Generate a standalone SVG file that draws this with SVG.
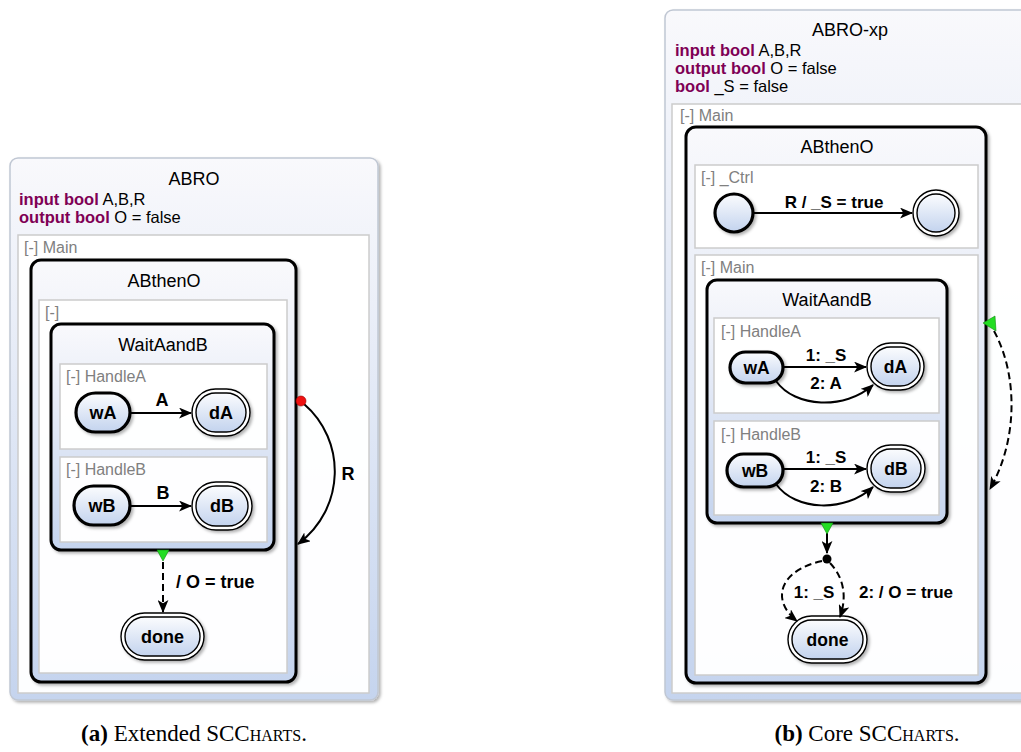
<svg xmlns="http://www.w3.org/2000/svg" width="1021" height="752" viewBox="0 0 1021 752">
  <defs>
    <linearGradient id="stateFill" x1="0" y1="0" x2="0" y2="1">
      <stop offset="0" stop-color="#f9f9fc"/>
      <stop offset="1" stop-color="#c5d4ee"/>
    </linearGradient>
    <linearGradient id="simpleFill" x1="0" y1="0" x2="0" y2="1">
      <stop offset="0" stop-color="#fbfcfe"/>
      <stop offset="1" stop-color="#c3d3ee"/>
    </linearGradient>
    <filter id="shadow" x="-10%" y="-10%" width="130%" height="130%">
      <feDropShadow dx="2" dy="2" stdDeviation="1.5" flood-color="#000" flood-opacity="0.3"/>
    </filter>
    <marker id="arrow" viewBox="0 0 12 10" refX="11" refY="5" markerWidth="13" markerHeight="11" markerUnits="userSpaceOnUse" orient="auto">
      <path d="M0,0 L12,5 L0,10 L3,5 z" fill="#000"/>
    </marker>
    <style>
      .root { fill: url(#stateFill); stroke: #c0c7d3; stroke-width: 1.5; filter: url(#shadow); }
      .macro { fill: url(#stateFill); stroke: #000; stroke-width: 3; filter: url(#shadow); }
      .region { fill: #ffffff; fill-opacity: 0.97; stroke: #cccccc; stroke-width: 1.5; }
      .simple { fill: url(#simpleFill); stroke: #000; stroke-width: 1.5; filter: url(#shadow); }
      .initial { fill: url(#simpleFill); stroke: #000; stroke-width: 3.2; filter: url(#shadow); }
      .finalInner { fill: url(#simpleFill); stroke: #000; stroke-width: 1.4; }
      .finalOuter { fill: #ffffff; stroke: #000; stroke-width: 1.4; filter: url(#shadow); }
      .edge { fill: none; stroke: #000; stroke-width: 2; marker-end: url(#arrow); }
      .dashed { stroke-dasharray: 7 4; }
      .term { fill: #22dd22; stroke: #118811; stroke-width: 0.6; }
      text { font-family: "Liberation Sans", Arial, sans-serif; fill: #000; }
      .title { font-size: 18px; text-anchor: middle; }
      .decl { font-size: 16.5px; }
      .kw { font-weight: bold; fill: #7f0055; }
      .rlabel { font-size: 16px; fill: #808080; }
      .slabel { font-size: 18px; font-weight: bold; text-anchor: middle; }
      .slabel2 { font-size: 17.5px; font-weight: bold; text-anchor: middle; }
      .elabel { font-size: 18px; font-weight: bold; }
      .elabel2 { font-size: 17px; font-weight: bold; }
      .caption { font-family: "Liberation Serif", "Times New Roman", serif; font-size: 23px; text-anchor: middle; }
      .sc { font-variant: small-caps; }
    </style>
  </defs>

  <!-- ===== (a) Extended SCCharts ===== -->
  <g id="ABRO">
    <rect class="root" x="10" y="158" width="368" height="542" rx="8"/>
    <text class="title" x="194" y="185">ABRO</text>
    <text class="decl" x="19" y="205"><tspan class="kw">input bool</tspan> A,B,R</text>
    <text class="decl" x="19" y="223"><tspan class="kw">output bool</tspan> O = false</text>
  </g>
  <g id="ABRO-Main">
    <rect class="region" x="18" y="235" width="351" height="458"/>
    <text class="rlabel" x="24" y="253">[-] Main</text>
  </g>
  <g id="ABRO-ABthenO">
    <rect class="macro" x="31" y="260" width="265" height="422" rx="10"/>
    <text class="title" x="164" y="287">ABthenO</text>
  </g>
  <g id="ABRO-ABthenO-region">
    <rect class="region" x="39" y="300" width="248" height="373"/>
    <text class="rlabel" x="45" y="318">[-]</text>
  </g>
  <g id="ABRO-WaitAandB">
    <rect class="macro" x="51" y="324" width="223" height="226" rx="10"/>
    <text class="title" x="163" y="351">WaitAandB</text>
  </g>
  <g id="ABRO-HandleA">
    <rect class="region" x="60" y="364" width="207" height="85"/>
    <text class="rlabel" x="66" y="382">[-] HandleA</text>
  </g>
  <g id="ABRO-wA">
    <rect class="initial" x="76" y="393" width="54" height="39" rx="19.5"/>
    <text class="slabel" x="103" y="419">wA</text>
  </g>
  <g id="ABRO-dA">
    <rect class="finalOuter" x="192" y="389" width="58" height="47" rx="23.5"/>
    <rect class="finalInner" x="196" y="393" width="50" height="39" rx="19.5"/>
    <text class="slabel" x="221" y="419">dA</text>
  </g>
  <g id="ABRO-HandleB">
    <rect class="region" x="60" y="457" width="207" height="85"/>
    <text class="rlabel" x="66" y="475">[-] HandleB</text>
  </g>
  <g id="ABRO-wB">
    <rect class="initial" x="74" y="486" width="56" height="39" rx="19.5"/>
    <text class="slabel" x="102" y="512">wB</text>
  </g>
  <g id="ABRO-dB">
    <rect class="finalOuter" x="192" y="482" width="60" height="48" rx="24"/>
    <rect class="finalInner" x="196" y="486" width="52" height="40" rx="20"/>
    <text class="slabel" x="222" y="512">dB</text>
  </g>
  <g id="ABRO-done">
    <rect class="finalOuter" x="121" y="613" width="83" height="47" rx="23.5"/>
    <rect class="finalInner" x="125" y="617" width="75" height="39" rx="19.5"/>
    <text class="slabel" x="162.5" y="643">done</text>
  </g>

  <g id="ABRO-connectors">
    <line class="edge" x1="130" y1="413" x2="191" y2="413"/>
    <text class="elabel" x="162" y="406" text-anchor="middle">A</text>
    <line class="edge" x1="130" y1="506" x2="191" y2="506"/>
    <text class="elabel" x="163" y="499" text-anchor="middle">B</text>
    <path class="edge" d="M304,404 C346,440 346,508 298,544"/>
    <circle cx="301" cy="401" r="5" fill="#ee1111" stroke="#990000" stroke-width="0.6"/>
    <text class="elabel" x="348" y="480" text-anchor="middle">R</text>
    <path class="edge dashed" d="M163,562 L163,612"/>
    <polygon class="term" points="157,550 169,550 163,561"/>
    <text class="elabel" x="176" y="588">/ O = true</text>
  </g>

  <!-- ===== (b) Core SCCharts ===== -->
  <g id="ABRO-xp">
    <rect class="root" x="665" y="10" width="400" height="690" rx="8"/>
    <text class="title" x="850" y="36">ABRO-xp</text>
    <text class="decl" x="675" y="56"><tspan class="kw">input bool</tspan> A,B,R</text>
    <text class="decl" x="675" y="74"><tspan class="kw">output bool</tspan> O = false</text>
    <text class="decl" x="675" y="92"><tspan class="kw">bool</tspan> _S = false</text>
  </g>
  <g id="xp-Main">
    <rect class="region" x="672" y="104" width="400" height="589"/>
    <text class="rlabel" x="680" y="121">[-] Main</text>
  </g>
  <g id="xp-ABthenO">
    <rect class="macro" x="686" y="127" width="300" height="556" rx="10"/>
    <text class="title" x="837" y="153">ABthenO</text>
  </g>
  <g id="xp-Ctrl">
    <rect class="region" x="695" y="165" width="283" height="83"/>
    <text class="rlabel" x="701" y="183">[-] _Ctrl</text>
  </g>
  <g id="xp-Ctrl-init">
    <circle class="initial" cx="734" cy="213" r="19"/>
  </g>
  <g id="xp-Ctrl-final">
    <circle class="finalOuter" cx="936" cy="213" r="23"/>
    <circle class="finalInner" cx="936" cy="213" r="19"/>
  </g>
  <g id="xp-Main2">
    <rect class="region" x="695" y="255" width="283" height="420"/>
    <text class="rlabel" x="701" y="273">[-] Main</text>
  </g>
  <g id="xp-WaitAandB">
    <rect class="macro" x="707" y="280" width="240" height="243" rx="10"/>
    <text class="title" x="827" y="306">WaitAandB</text>
  </g>
  <g id="xp-HandleA">
    <rect class="region" x="714" y="318" width="225" height="95"/>
    <text class="rlabel" x="721" y="337">[-] HandleA</text>
  </g>
  <g id="xp-wA">
    <rect class="initial" x="730" y="352" width="53" height="31" rx="15.5"/>
    <text class="slabel2" x="756.5" y="374">wA</text>
  </g>
  <g id="xp-dA">
    <rect class="finalOuter" x="867" y="343" width="57" height="47" rx="23.5"/>
    <rect class="finalInner" x="871" y="347" width="49" height="39" rx="19.5"/>
    <text class="slabel2" x="895.5" y="373">dA</text>
  </g>
  <g id="xp-HandleB">
    <rect class="region" x="714" y="421" width="225" height="94"/>
    <text class="rlabel" x="721" y="440">[-] HandleB</text>
  </g>
  <g id="xp-wB">
    <rect class="initial" x="727" y="454" width="56" height="33" rx="16.5"/>
    <text class="slabel2" x="755" y="477">wB</text>
  </g>
  <g id="xp-dB">
    <rect class="finalOuter" x="867" y="445" width="58" height="47" rx="23.5"/>
    <rect class="finalInner" x="871" y="449" width="50" height="39" rx="19.5"/>
    <text class="slabel2" x="896" y="475">dB</text>
  </g>
  <g id="xp-done">
    <rect class="finalOuter" x="788" y="616" width="79" height="47" rx="23.5"/>
    <rect class="finalInner" x="792" y="620" width="71" height="39" rx="19.5"/>
    <text class="slabel2" x="827.5" y="646">done</text>
  </g>

  <g id="xp-connectors">
    <line class="edge" x1="753" y1="213" x2="912" y2="213"/>
    <text class="elabel2" x="834" y="208" text-anchor="middle">R / _S = true</text>

    <line class="edge" x1="783" y1="367" x2="866" y2="367"/>
    <text class="elabel2" x="826" y="361" text-anchor="middle">1: _S</text>
    <path class="edge" d="M776,381 C795,408 845,410 873,385"/>
    <text class="elabel2" x="826" y="389" text-anchor="middle">2: A</text>

    <line class="edge" x1="783" y1="469" x2="866" y2="469"/>
    <text class="elabel2" x="826" y="463" text-anchor="middle">1: _S</text>
    <path class="edge" d="M776,484 C795,511 845,513 873,487"/>
    <text class="elabel2" x="826" y="492" text-anchor="middle">2: B</text>

    <line class="edge" x1="827" y1="533" x2="827" y2="553"/>
    <polygon class="term" points="821,523 833,523 827,534"/>
    <circle cx="827" cy="559" r="4.5" fill="#000"/>
    <path class="edge dashed" d="M822,561 C780,570 770,600 797,621"/>
    <path class="edge dashed" d="M830,563 C846,580 846,600 840,617"/>
    <text class="elabel2" x="814" y="598" text-anchor="middle">1: _S</text>
    <text class="elabel2" x="859" y="598">2: / O = true</text>

    <path class="edge dashed" d="M994,331 C1018,375 1018,440 990,489"/>
    <polygon class="term" points="983,323 995,316 996,331"/>
  </g>

  <!-- captions -->
  <text class="caption" x="194" y="741"><tspan font-weight="bold">(a)</tspan> Extended <tspan class="sc">SCCharts</tspan>.</text>
  <text class="caption" x="867" y="741"><tspan font-weight="bold">(b)</tspan> Core <tspan class="sc">SCCharts</tspan>.</text>
</svg>
